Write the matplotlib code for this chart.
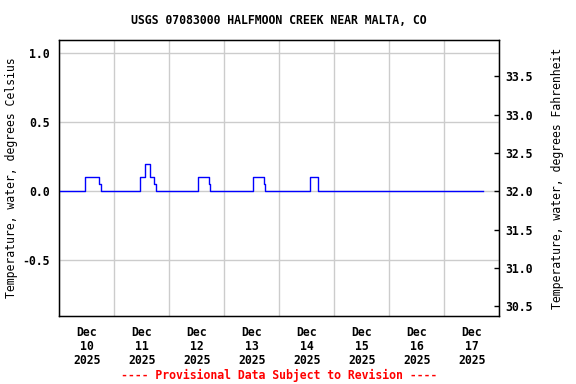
import numpy as np
import pandas as pd
import matplotlib
matplotlib.use("Agg")
import matplotlib.pyplot as plt
import matplotlib.dates as mdates
from matplotlib.ticker import FixedLocator, NullFormatter

# Data: water temperature (deg C), value changes at these times (step plot)
times = ["2025-12-10 00:00", "2025-12-10 11:00", "2025-12-10 17:30", "2025-12-10 18:00",
         "2025-12-11 11:15", "2025-12-11 13:30", "2025-12-11 15:45", "2025-12-11 17:30", "2025-12-11 18:15",
         "2025-12-12 12:30", "2025-12-12 17:15", "2025-12-12 17:45",
         "2025-12-13 12:30", "2025-12-13 17:15", "2025-12-13 17:45",
         "2025-12-14 13:15", "2025-12-14 16:45",
         "2025-12-17 16:45"]
temps_c = [0.0, 0.1, 0.05, 0.0,
           0.1, 0.2, 0.1, 0.05, 0.0,
           0.1, 0.05, 0.0,
           0.1, 0.05, 0.0,
           0.1, 0.0,
           0.0]

day_labels = ["Dec\n10\n2025", "Dec\n11\n2025", "Dec\n12\n2025", "Dec\n13\n2025",
              "Dec\n14\n2025", "Dec\n15\n2025", "Dec\n16\n2025", "Dec\n17\n2025"]
left_ticks = [-0.5, 0.0, 0.5, 1.0]
right_ticks = [30.5, 31.0, 31.5, 32.0, 32.5, 33.0, 33.5]

title = "USGS 07083000 HALFMOON CREEK NEAR MALTA, CO"
note = "---- Provisional Data Subject to Revision ----"

plt.rcParams["font.family"] = "DejaVu Sans Mono"
plt.rcParams["font.weight"] = "bold"
plt.rcParams["font.size"] = 8.3

t = pd.to_datetime(times)
start = pd.Timestamp("2025-12-10")
days = pd.date_range(start, periods=9, freq="D")

fig = plt.figure(figsize=(5.76, 3.84), dpi=100)
ax = fig.add_axes([59.3 / 576, 1 - 316 / 384, 440 / 576, 276 / 384])

ax.plot(t, temps_c, color="#0000ff", lw=1.0, drawstyle="steps-post", zorder=3)

ylo, yhi = -0.904, 1.0965
ax.set_ylim(ylo, yhi)
ax.set_xlim(days[0], days[-1])

# grid on day boundaries, labels at noon
ax.xaxis.set_major_locator(FixedLocator(mdates.date2num(days)))
ax.xaxis.set_major_formatter(NullFormatter())
noons = mdates.date2num(days[:-1] + pd.Timedelta(hours=12))
ax.xaxis.set_minor_locator(FixedLocator(noons))
ax.set_xticks(noons, day_labels, minor=True)
ax.tick_params(axis="x", which="both", length=0)
ax.tick_params(axis="x", which="minor", pad=7)
for lab in ax.get_xticklabels(minor=True):
    lab.set_linespacing(1.12)

ax.set_yticks(left_ticks)
ax.set_yticklabels(["%.1f" % v for v in left_ticks])
ax.tick_params(axis="y", length=0, pad=7)
ax.grid(True, which="major", color="#cccccc", lw=1.0)
ax.set_axisbelow(True)
for s in ax.spines.values():
    s.set_color("black")
    s.set_linewidth(1.0)
ax.set_ylabel("Temperature, water, degrees Celsius")
ax.yaxis.set_label_coords((18 - 59.3) / 440, 0.5)

# Fahrenheit axis on the right
ax2 = ax.twinx()
ax2.set_ylim(32 + 1.8 * ylo, 32 + 1.8 * yhi)
ax2.set_yticks(right_ticks)
ax2.set_yticklabels(["%.1f" % v for v in right_ticks])
ax2.tick_params(axis="y", direction="in", length=3.5, width=1.0, pad=4)
ax2.set_ylabel("Temperature, water, degrees Fahrenheit")
ax2.yaxis.set_label_coords((551 - 59.3) / 440, 0.5)

fig.text((59.3 + 220) / 576, 1 - 20 / 384, title, ha="center", va="center")
fig.text((59.3 + 220) / 576, 1 - 375 / 384, note, ha="center", va="center", color="#ff0000")

fig.savefig("out.png", dpi=100)
